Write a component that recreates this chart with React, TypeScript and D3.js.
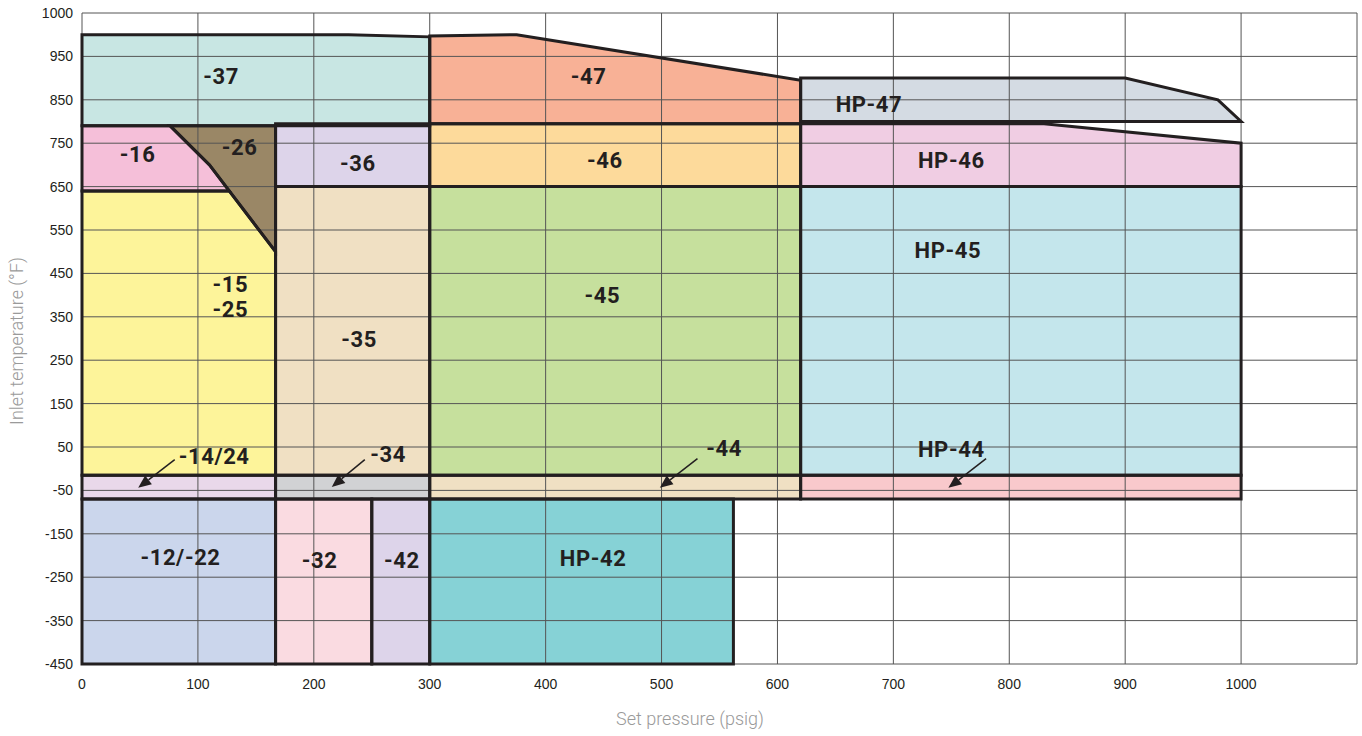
import { scaleLinear, line } from 'd3';

const WIDTH = 1362;
const HEIGHT = 736;
const INK = '#231f20';
const GRID = '#555555';

type Pt = [number, number];

// axis ticks (the top line is labelled 1000 in the original)
const X_TICKS = [0, 100, 200, 300, 400, 500, 600, 700, 800, 900, 1000];
const Y_TICKS = [-450, -350, -250, -150, -50, 50, 150, 250, 350, 450, 550, 650, 750, 850, 950, 1050];
const Y_TICK_LABELS = ['-450', '-350', '-250', '-150', '-50', '50', '150', '250', '350', '450', '550', '650', '750', '850', '950', '1000'];

// region outlines: [set pressure psig, inlet temperature °F]
const R37: Pt[] = [[0, 790], [0, 1000], [230, 1000], [300, 995], [300, 790]];
const R47: Pt[] = [[300, 795], [300, 997], [375, 1000], [620, 895], [620, 795]];
const RHP47: Pt[] = [[620, 800], [620, 900], [900, 900], [980, 850], [1000, 800]];
const R16: Pt[] = [[0, 640], [0, 790], [76, 790], [110, 700], [127, 640]];
const R15: Pt[] = [[0, -15], [0, 640], [127, 640], [167, 500], [167, -15]];
const R26: Pt[] = [[76, 790], [167, 790], [167, 500], [110, 700]];
const R36: Pt[] = [[167, 650], [167, 795], [300, 795], [300, 650]];
const R46: Pt[] = [[300, 650], [300, 795], [620, 795], [620, 650]];
const RHP46: Pt[] = [[620, 650], [620, 795], [830, 795], [1000, 750], [1000, 650]];
const R35: Pt[] = [[167, -15], [167, 650], [300, 650], [300, -15]];
const R45: Pt[] = [[300, -15], [300, 650], [620, 650], [620, -15]];
const RHP45: Pt[] = [[620, -15], [620, 650], [1000, 650], [1000, -15]];
const R14: Pt[] = [[0, -70], [0, -15], [167, -15], [167, -70]];
const R34: Pt[] = [[167, -70], [167, -15], [300, -15], [300, -70]];
const R44: Pt[] = [[300, -70], [300, -15], [620, -15], [620, -70]];
const RHP44: Pt[] = [[620, -70], [620, -15], [1000, -15], [1000, -70]];
const R12: Pt[] = [[0, -450], [0, -70], [167, -70], [167, -450]];
const R32: Pt[] = [[167, -450], [167, -70], [250, -70], [250, -450]];
const R42: Pt[] = [[250, -450], [250, -70], [300, -70], [300, -450]];
const RHP42: Pt[] = [[300, -450], [300, -70], [562, -70], [562, -450]];

const REGIONS: Pt[][] = [
  R37, R47, RHP47, R16, R15, R26, R36, R46, RHP46, R35, R45, RHP45,
  R14, R34, R44, RHP44, R12, R32, R42, RHP42,
];
const REGION_COLORS = [
  '#c8e6e3', '#f8b196', '#d4dbe3', '#f5bfd9', '#fdf49a', '#9a8766', '#ddd4ea', '#fdda9b', '#f0cde3', '#f0e0c3', '#c6e09d', '#c4e6ec',
  '#e9d8ea', '#d1d2d4', '#f0e0c3', '#f9c9cc', '#cbd6ec', '#fadbe1', '#ddd4ea', '#86d2d6',
];

// model labels and where they sit, in data units
const LABEL_TEXT = [
  '-37', '-47', 'HP-47', '-16', '-26', '-36', '-46', 'HP-46', 'HP-45', '-15', '-25', '-45', '-35',
  '-14/24', '-34', '-44', 'HP-44', '-12/-22', '-32', '-42', 'HP-42',
];
const LABEL_AT: Pt[] = [
  [120, 905], [437, 905], [679, 840], [48, 724], [136, 740], [238, 704], [451, 710], [750, 710], [747, 503],
  [128, 425], [128, 367], [449, 400], [239, 298],
  [114, 29], [264, 34], [554, 47], [750, 45], [85, -204], [205, -210], [276, -210], [441, -206],
];

// pointer arrows for the narrow bands: [from, tip]
const ARROWS: [Pt, Pt][] = [
  [[80, 21], [48.5, -44]],
  [[244, 21], [215.5, -42]],
  [[531, 23], [498.5, -44]],
  [[780, 23], [747.5, -44]],
];

export default function App() {
  const x = scaleLinear().domain([0, 1100]).range([82, 1357]);
  const y = scaleLinear().domain([-450, 1050]).range([664, 13]);

  const poly = line<Pt>().x(d => x(d[0])).y(d => y(d[1]));

  return (
    <div style={{ position: 'absolute', left: 0, top: 0 }}>
      <svg width={WIDTH} height={HEIGHT} style={{ display: 'block' }}>
        <rect width={WIDTH} height={HEIGHT} fill="#fff" />

        {REGIONS.map((r, i) => (
          <path key={'f' + i} d={poly(r) + 'Z'} fill={REGION_COLORS[i]} />
        ))}

        {/* grid + frame */}
        {Y_TICKS.map(v => (
          <line key={'gy' + v} x1={x(0)} x2={x(1100)} y1={y(v)} y2={y(v)} stroke={GRID} strokeWidth={1} />
        ))}
        {X_TICKS.concat([1100]).map(v => (
          <line key={'gx' + v} x1={x(v)} x2={x(v)} y1={y(-450)} y2={y(1050)} stroke={GRID} strokeWidth={1} />
        ))}

        {REGIONS.map((r, i) => (
          <path key={'o' + i} d={poly(r) + 'Z'} fill="none" stroke={INK} strokeWidth={3} strokeLinejoin="miter" />
        ))}

        {/* tick labels */}
        <g fontFamily="'Liberation Sans', Arial, sans-serif" fontSize={14} fill={INK}>
          {Y_TICKS.map((v, i) => (
            <text key={'ty' + v} x={73} y={y(v)} dy="0.35em" textAnchor="end">{Y_TICK_LABELS[i]}</text>
          ))}
          {X_TICKS.map(v => (
            <text key={'tx' + v} x={x(v)} y={689} textAnchor="middle">{v}</text>
          ))}
        </g>

        {/* axis titles */}
        <text x={690} y={725} textAnchor="middle" fontFamily="Roboto, sans-serif" fontWeight={300} fontSize={18} fill="#9a9a9a">
          Set pressure (psig)
        </text>
        <text transform="translate(23,341) rotate(-90)" textAnchor="middle" fontFamily="Roboto, sans-serif" fontWeight={300} fontSize={18} fill="#9a9a9a">
          Inlet temperature (°F)
        </text>

        {/* arrows */}
        {ARROWS.map(([a, b], i) => {
          const x1 = x(a[0]), y1 = y(a[1]), x2 = x(b[0]), y2 = y(b[1]);
          const ang = Math.atan2(y2 - y1, x2 - x1);
          const len = 13, half = 5.5;
          const bx = x2 - len * Math.cos(ang), by = y2 - len * Math.sin(ang);
          const px = -Math.sin(ang) * half, py = Math.cos(ang) * half;
          return (
            <g key={'a' + i}>
              <line x1={x1} y1={y1} x2={bx} y2={by} stroke={INK} strokeWidth={1.5} />
              <path d={`M${x2},${y2}L${bx + px},${by + py}L${bx - px},${by - py}Z`} fill={INK} />
            </g>
          );
        })}

        {/* region labels */}
        <g fontFamily="Roboto, sans-serif" fontWeight={700} fontSize={22} fill={INK} textAnchor="middle">
          {LABEL_TEXT.map((t, i) => (
            <text key={'l' + i} x={x(LABEL_AT[i][0])} y={y(LABEL_AT[i][1])} dy="0.35em" letterSpacing={0.6}>{t}</text>
          ))}
        </g>
      </svg>
    </div>
  );
}
